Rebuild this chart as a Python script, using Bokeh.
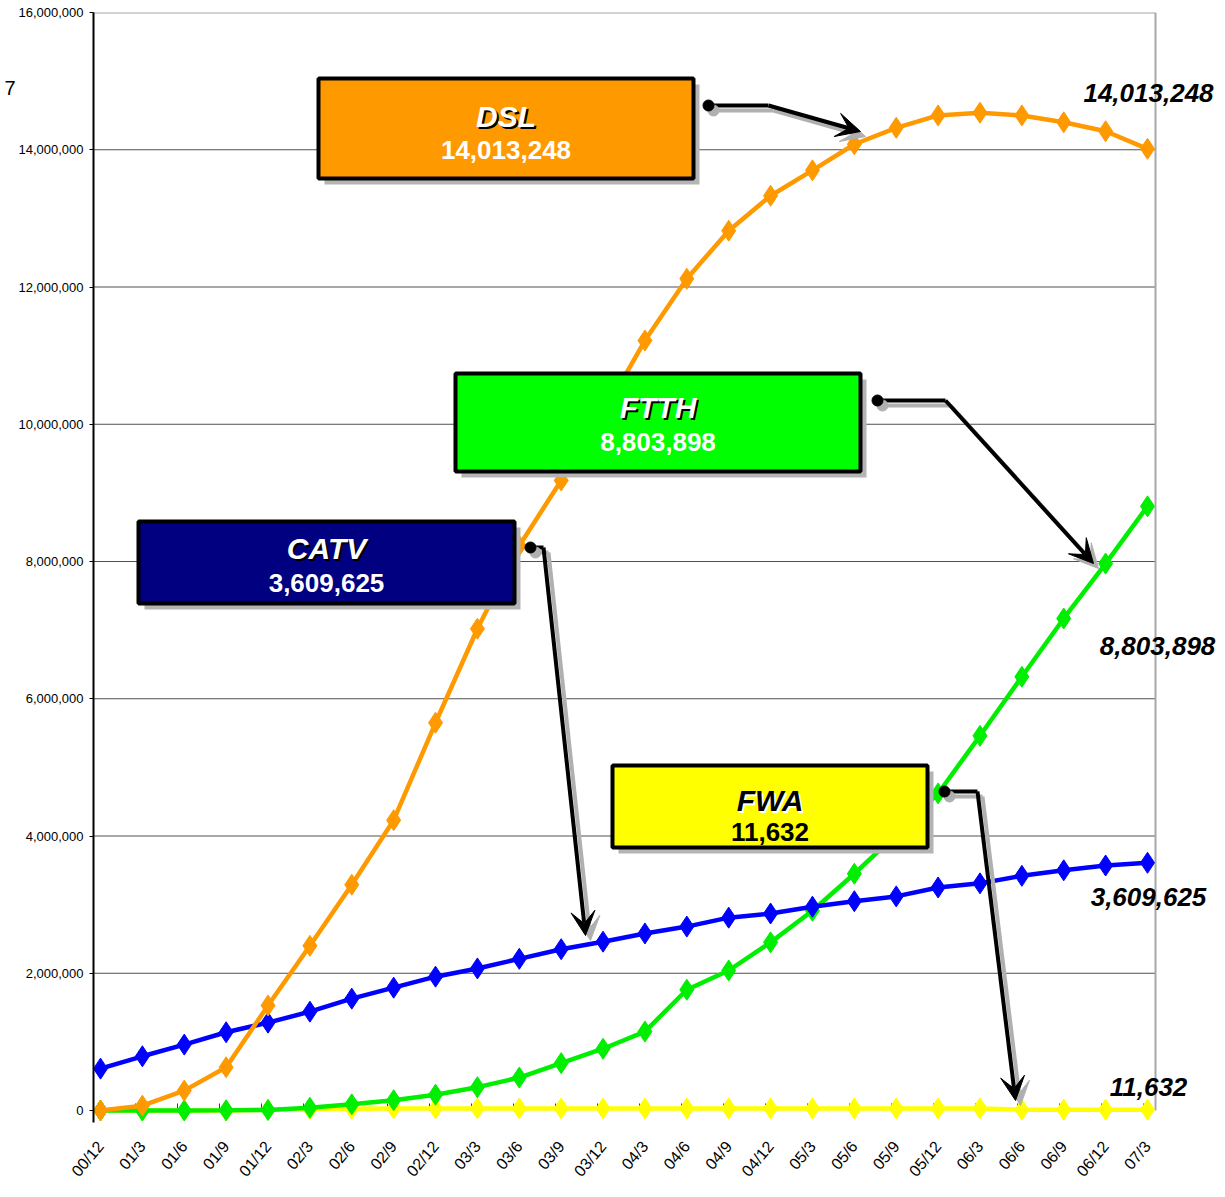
from bokeh.plotting import figure
from bokeh.models import (Range1d, FixedTicker, Label, BoxAnnotation, Arrow, VeeHead, LinearAxis)
from bokeh.embed import file_html
from bokeh.resources import INLINE

# ---------------- data ----------------
periods = ["00/12", "01/3", "01/6", "01/9", "01/12", "02/3", "02/6", "02/9", "02/12",
           "03/3", "03/6", "03/9", "03/12", "04/3", "04/6", "04/9", "04/12",
           "05/3", "05/6", "05/9", "05/12", "06/3", "06/6", "06/9", "06/12", "07/3"]

dsl = [0, 70000, 290000, 630000, 1530000, 2400000, 3290000, 4230000, 5650000,
       7020000, 8230000, 9180000, 10150000, 11220000, 12120000, 12820000, 13330000,
       13700000, 14080000, 14320000, 14500000, 14540000, 14500000, 14400000, 14270000, 14013248]

catv = [610000, 790000, 960000, 1140000, 1280000, 1440000, 1630000, 1790000, 1950000,
        2070000, 2210000, 2350000, 2460000, 2580000, 2680000, 2810000, 2870000,
        2970000, 3050000, 3120000, 3250000, 3310000, 3420000, 3500000, 3570000, 3609625]

ftth = [0, 0, 1000, 3000, 8000, 40000, 90000, 150000, 230000,
        340000, 480000, 690000, 900000, 1150000, 1760000, 2040000, 2450000,
        2910000, 3450000, 4020000, 4620000, 5460000, 6320000, 7170000, 7970000, 8803898]

fwa = [0, 0, 0, 0, 10000, 20000, 25000, 30000, 30000,
       30000, 30000, 30000, 30000, 30000, 30000, 30000, 30000,
       30000, 30000, 30000, 30000, 30000, 12000, 11900, 11800, 11632]

latest = {"DSL": dsl[-1], "FTTH": ftth[-1], "CATV": catv[-1], "FWA": fwa[-1]}
y_ticks = [0, 2000000, 4000000, 6000000, 8000000, 10000000, 12000000, 14000000, 16000000]
corner_text = "7"
corner_text_at = 14900000

# ---------------- layout helpers (page pixels -> data) ----------------
PX_X0, PX_DX = 100.0, 41.88        # page x of first category, px per category
PX_Y0, PX_PER_M = 1110.0, 68.625   # page y of zero, px per million
W, H = 1217, 1189
F_LEFT, F_TOP, F_BOTTOM = 93, 12, 1122
PLOT_RIGHT = 1155


def X(px):
    return (px - PX_X0) / PX_DX


def Y(py):
    return (PX_Y0 - py) / PX_PER_M * 1e6


x = list(range(len(periods)))

p = figure(width=W, height=H, output_backend="svg", toolbar_location=None,
           x_range=Range1d(X(F_LEFT), X(W)), y_range=Range1d(Y(F_BOTTOM), Y(F_TOP)),
           min_border_left=F_LEFT, min_border_right=0, min_border_top=F_TOP,
           min_border_bottom=H - F_BOTTOM)
p.outline_line_color = None
p.background_fill_color = "white"

# axes
p.yaxis.ticker = FixedTicker(ticks=y_ticks)
p.yaxis.major_label_overrides = {t: f"{t:,}" for t in y_ticks}
p.yaxis.major_label_text_font = "Liberation Sans"
p.yaxis.major_label_text_font_size = "13px"
p.yaxis.major_label_text_color = "black"
p.yaxis.axis_line_color = "black"
p.yaxis.axis_line_width = 2
p.yaxis.major_tick_line_color = "black"
p.yaxis.major_tick_out = 4
p.yaxis.major_tick_in = 0
p.yaxis.minor_tick_line_color = None
p.yaxis.major_label_standoff = 6
p.yaxis.axis_label_standoff = 0

# second (outer) left axis carrying the cut-off corner text
ax2 = LinearAxis(ticker=FixedTicker(ticks=[corner_text_at]),
                 major_label_overrides={corner_text_at: corner_text})
ax2.axis_line_color = None
ax2.major_tick_line_color = None
ax2.minor_tick_line_color = None
ax2.major_tick_out = 0
ax2.major_tick_in = 0
ax2.axis_label_standoff = 0
ax2.major_label_text_font = "Liberation Sans"
ax2.major_label_text_font_size = "20px"
ax2.major_label_text_color = "black"
ax2.major_label_standoff = 0
p.add_layout(ax2, "left")

p.xaxis.ticker = FixedTicker(ticks=x)
p.xaxis.major_label_overrides = {i: s for i, s in enumerate(periods)}
p.xaxis.major_label_orientation = 0.87
p.xaxis.major_label_text_font = "Liberation Sans"
p.xaxis.major_label_text_font_size = "16px"
p.xaxis.major_label_text_color = "black"
p.xaxis.axis_line_color = None
p.xaxis.major_tick_line_color = None
p.xaxis.minor_tick_line_color = None
p.xaxis.major_tick_out = 0
p.xaxis.major_tick_in = 0
p.xaxis.axis_label_standoff = 0
p.xaxis.major_label_standoff = 21

p.xgrid.grid_line_color = None
p.ygrid.grid_line_color = None

# gridlines and plot-area border (limited to the plot area)
gl = y_ticks[1:-1]
p.segment(x0=[X(F_LEFT)] * len(gl), y0=gl, x1=[X(PLOT_RIGHT)] * len(gl), y1=gl,
          line_color="#505050", line_width=1, level="underlay")
p.segment(x0=[X(F_LEFT), X(PLOT_RIGHT)], y0=[y_ticks[-1], 0],
          x1=[X(PLOT_RIGHT), X(PLOT_RIGHT)], y1=[y_ticks[-1], y_ticks[-1]],
          line_color="#A8A8A8", line_width=2, level="underlay")
# small category ticks on the zero line
p.segment(x0=[X(F_LEFT + 42 * i) for i in range(1, 26)], y0=[0] * 25,
          x1=[X(F_LEFT + 42 * i) for i in range(1, 26)], y1=[Y(PX_Y0 - 7)] * 25,
          line_color="#404040", line_width=1, level="underlay")

# series (back to front)
for vals, col in [(fwa, "#FFFF00"), (ftth, "#00EE00"), (catv, "#0000FF"), (dsl, "#FF9900")]:
    p.line(x, vals, line_color=col, line_width=4.5)
    p.scatter(x, vals, marker="diamond", size=21, fill_color=col, line_color=col)

# ---------------- callout boxes ----------------
boxes = [
    ("DSL", 318, 693, 78, 178, "#FF9900", "white", "black", 116, 149),
    ("FTTH", 455, 860, 373, 471, "#00FF00", "white", "black", 407, 441),
    ("CATV", 138, 514, 521, 603, "#000080", "white", "black", 548, 582),
    ("FWA", 612, 927, 765, 847, "#FFFF00", "black", "white", 800, 831),
]
SH = 6
for name, l, r, t, b, fill, tc, sc, ty, vy in boxes:
    p.add_layout(BoxAnnotation(left=X(l + SH), right=X(r + SH), top=Y(t + SH), bottom=Y(b + SH),
                               fill_color="#B4B4B4", fill_alpha=1, line_color=None))
    p.add_layout(BoxAnnotation(left=X(l), right=X(r), top=Y(t), bottom=Y(b),
                               fill_color=fill, fill_alpha=1, line_color="black", line_width=4,
                               line_alpha=1))
    cx = X((l + r) / 2)
    p.add_layout(Label(x=cx, y=Y(ty), text=name, text_align="center", text_baseline="middle",
                       text_font="Liberation Sans", text_font_style="bold italic",
                       text_font_size="30px", text_color=sc, x_offset=2, y_offset=-2))
    p.add_layout(Label(x=cx, y=Y(ty), text=name, text_align="center", text_baseline="middle",
                       text_font="Liberation Sans", text_font_style="bold italic",
                       text_font_size="30px", text_color=tc))
    p.add_layout(Label(x=cx, y=Y(vy), text=f"{latest[name]:,}", text_align="center",
                       text_baseline="middle", text_font="Liberation Sans", text_font_style="bold",
                       text_font_size="26px", text_color=tc))

# ---------------- arrows ----------------
arrows = [
    [(708, 105), (768, 105), (860, 131)],
    [(877, 400), (945, 400), (1093, 563)],
    [(530, 547), (543, 547), (585, 935)],
    [(944, 791), (977, 791), (1015, 1100)],
]
for col, off in [("#B0B0B0", 5), ("black", 0)]:
    for pts in arrows:
        (x0, y0), (x1, y1), (x2, y2) = [(a + off, b + off) for a, b in pts]
        p.add_layout(Arrow(x_start=X(x0), y_start=Y(y0), x_end=X(x1), y_end=Y(y1), end=None,
                           line_color=col, line_width=4))
        p.add_layout(Arrow(x_start=X(x1), y_start=Y(y1), x_end=X(x2), y_end=Y(y2),
                           end=VeeHead(size=24, fill_color=col, line_color=col),
                           line_color=col, line_width=4))
    p.scatter([X(a + off) for (a, b), _, _ in arrows], [Y(b + off) for (a, b), _, _ in arrows],
              marker="circle", size=11, fill_color=col, line_color=col, level="overlay")

# ---------------- end-value labels ----------------
end_labels = [("DSL", 1148, 92), ("FTTH", 1157, 645), ("CATV", 1148, 896), ("FWA", 1148, 1086)]
for name, px, py in end_labels:
    p.add_layout(Label(x=X(px), y=Y(py), text=f"{latest[name]:,}", text_align="center",
                       text_baseline="middle", text_font="Liberation Sans",
                       text_font_style="bold italic", text_font_size="26px", text_color="black"))

open("out.html", "w").write(file_html(p, INLINE))
